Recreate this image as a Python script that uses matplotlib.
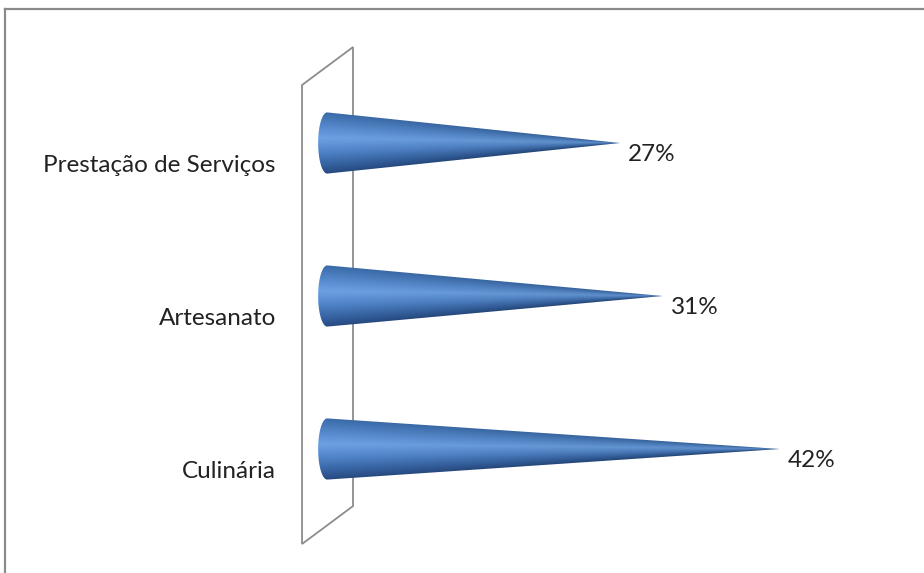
import numpy as np
import matplotlib
matplotlib.use("Agg")
import matplotlib.pyplot as plt
from matplotlib.path import Path
from matplotlib.patches import PathPatch, Polygon
from matplotlib.colors import LinearSegmentedColormap
from matplotlib.lines import Line2D

# dados (de cima para baixo no grafico)
categorias = ["Prestação de Serviços", "Artesanato", "Culinária"]
valores = [27, 31, 42]
rotulos = ["27%", "31%", "42%"]

W, H, DPI = 924, 573, 100

PX0, PX_PER = 332.0, 10.667      # x pixel do 0% e pixels por %
PY0, PY_PER = 449.0, 153.0       # y pixel da categoria 0 (de baixo) e espacamento
XLIM = (-3.0, 45.0)
YLIM = (-0.8, 2.8)

fig = plt.figure(figsize=(W / DPI, H / DPI), dpi=DPI)
left = (PX0 + XLIM[0] * PX_PER) / W
right = (PX0 + XLIM[1] * PX_PER) / W
top = (PY0 - YLIM[1] * PY_PER)
bottom = (PY0 - YLIM[0] * PY_PER)
ax = fig.add_axes([left, 1 - bottom / H, right - left, (bottom - top) / H])
ax.set_xlim(*XLIM)
ax.set_ylim(*YLIM)
ax.axis("off")

# moldura externa (so topo e esquerda aparecem)
for xs, ys in [((5, W), (9, 9)), ((5, 5), (9, H))]:
    fig.add_artist(Line2D([x / W for x in xs], [1 - y / H for y in ys],
                          transform=fig.transFigure, color="#8a8a8a", lw=1.6))

# parede do eixo vertical (paralelogramo)
wall = [(-2.81, 2.379), (1.97, 2.627), (1.97, -0.373), (-2.81, -0.621)]
ax.add_patch(Polygon(wall, closed=True, fill=False, edgecolor="#8c8c8c",
                     lw=1.3, zorder=1))

cone_cmap = LinearSegmentedColormap.from_list("cone", [
    (0.00, "#3a6aa8"),
    (0.30, "#5d92d6"),
    (0.42, "#6ba1e2"),
    (0.62, "#5286cb"),
    (0.85, "#3562a0"),
    (1.00, "#274a80"),
])

R0 = 0.2      # meia altura da base do cone
XB = -0.45    # centro da base
AX_E = 0.85   # semi-eixo horizontal da elipse da base

n = len(categorias)
for i, (cat, v, lbl) in enumerate(zip(categorias, valores, rotulos)):
    yc = n - 1 - i
    # contorno: meia elipse esquerda + linhas ate a ponta
    th = np.linspace(np.pi / 2, 3 * np.pi / 2, 40)
    verts = [(XB + AX_E * np.cos(t), yc + R0 * np.sin(t)) for t in th]
    verts += [(v, yc), verts[0]]
    codes = [Path.MOVETO] + [Path.LINETO] * (len(verts) - 2) + [Path.CLOSEPOLY]
    clip = PathPatch(Path(verts, codes), facecolor="none", edgecolor="none")
    ax.add_patch(clip)

    # sombreamento: cor depende da posicao relativa ao raio local do cone
    xs = np.linspace(XB - AX_E, v, 500)
    ys = np.linspace(yc + R0, yc - R0, 120)
    X, Y = np.meshgrid(xs, ys)
    r = np.where(X < XB, R0, R0 * np.clip(1 - (X - XB) / (v - XB), 1e-3, 1))
    t = np.clip(((yc - Y) / r + 1) / 2, 0, 1)
    shade = 1 - 0.12 * np.clip((X - XB) / (v - XB), 0, 1)
    rgb = cone_cmap(t)[..., :3] * shade[..., None]
    im = ax.imshow(rgb, extent=(XB - AX_E, v, yc - R0, yc + R0),
                   aspect="auto", interpolation="bilinear", zorder=2,
                   origin="upper")
    im.set_clip_path(clip)

    ax.text(-5.25, yc - 0.145, cat, ha="right", va="center", fontsize=17.5,
            family="Lato", color="#222222")
    ax.text(v + 0.75, yc - 0.078, lbl, ha="left", va="center", fontsize=17.5,
            family="Lato", color="#222222")

fig.savefig("out.png", dpi=DPI, facecolor="white")
